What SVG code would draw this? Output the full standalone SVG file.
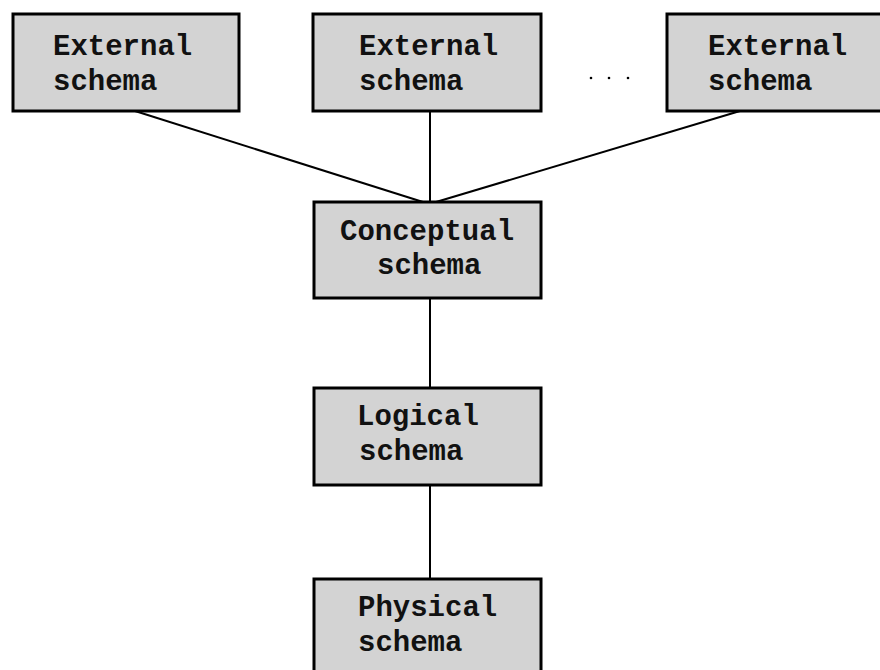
<svg xmlns="http://www.w3.org/2000/svg" width="880" height="670" viewBox="0 0 880 670">
  <style>
    .box { fill: #d3d3d3; stroke: #000; stroke-width: 3; }
    .lbl { font-family: "Liberation Mono", "Courier New", monospace; font-weight: bold; font-size: 29px; fill: #111; }
    .edge { stroke: #000; stroke-width: 2; fill: none; }
    .dot { fill: #000; }
  </style>
  <rect width="880" height="670" fill="#fff"/>

  <g id="connectors">
    <line class="edge" x1="135" y1="111" x2="423" y2="202"/>
    <line class="edge" x1="430" y1="111" x2="430" y2="202"/>
    <line class="edge" x1="740" y1="111" x2="436" y2="202"/>
    <line class="edge" x1="430" y1="298" x2="430" y2="388"/>
    <line class="edge" x1="430" y1="485" x2="430" y2="579"/>
  </g>

  <g id="external1">
    <rect class="box" x="13" y="14" width="226" height="97"/>
    <text class="lbl" x="53" y="55">External</text>
    <text class="lbl" x="53" y="90">schema</text>
  </g>

  <g id="external2">
    <rect class="box" x="313" y="14" width="228" height="97"/>
    <text class="lbl" x="359" y="55">External</text>
    <text class="lbl" x="359" y="90">schema</text>
  </g>

  <g id="ellipsis">
    <circle class="dot" cx="591" cy="78" r="1.3"/>
    <circle class="dot" cx="609" cy="78" r="1.3"/>
    <circle class="dot" cx="628" cy="78" r="1.3"/>
  </g>

  <g id="external3">
    <rect class="box" x="667" y="14" width="228" height="97"/>
    <text class="lbl" x="708" y="55">External</text>
    <text class="lbl" x="708" y="90">schema</text>
  </g>

  <g id="conceptual">
    <rect class="box" x="314" y="202" width="227" height="96"/>
    <text class="lbl" x="340" y="240">Conceptual</text>
    <text class="lbl" x="377" y="274">schema</text>
  </g>

  <g id="logical">
    <rect class="box" x="314" y="388" width="227" height="97"/>
    <text class="lbl" x="357" y="425">Logical</text>
    <text class="lbl" x="359" y="460">schema</text>
  </g>

  <g id="physical">
    <rect class="box" x="314" y="579" width="227" height="100"/>
    <text class="lbl" x="358" y="616">Physical</text>
    <text class="lbl" x="358" y="651">schema</text>
  </g>
</svg>
